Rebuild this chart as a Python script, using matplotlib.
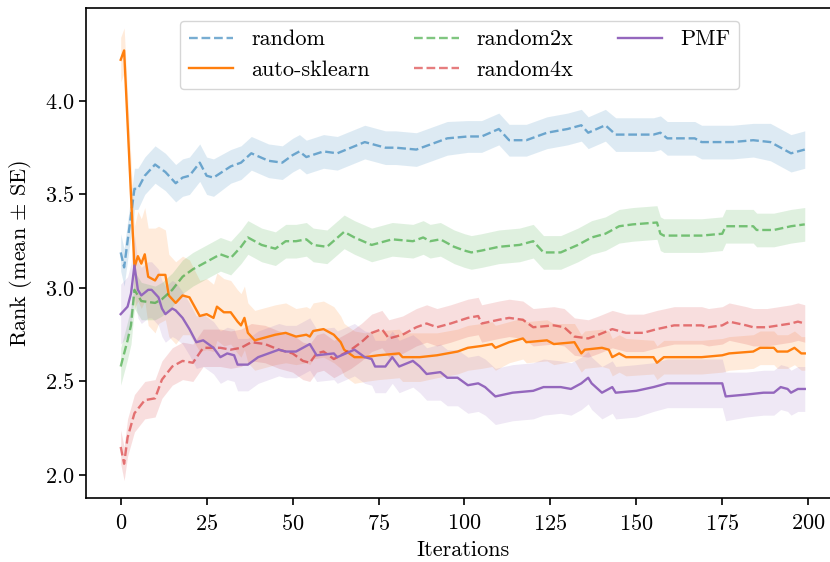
import matplotlib
matplotlib.use("Agg")
import matplotlib.pyplot as plt
import numpy as np

plt.rcParams['font.family'] = 'serif'
plt.rcParams['font.serif'] = ['cmr10', 'DejaVu Serif']
plt.rcParams['mathtext.fontset'] = 'cm'
plt.rcParams['axes.formatter.use_mathtext'] = True
plt.rcParams['font.size'] = 16

# values (iteration, mean rank, standard error)
random_it = [0, 1, 4, 5, 7, 10, 13, 16, 18, 20, 23, 25, 27, 32, 35, 38, 43, 47, 50, 52,
             54, 59, 63, 67, 71, 77, 80, 86, 89, 95, 101, 105, 110, 113, 118, 124, 130, 134, 136, 141,
             144, 152, 155, 157, 159, 167, 169, 178, 184, 189, 192, 195, 199]
random_mean = [3.19, 3.11, 3.53, 3.53, 3.60, 3.66, 3.62, 3.56, 3.59, 3.60, 3.67, 3.60, 3.59, 3.65, 3.67, 3.72, 3.68, 3.67, 3.71, 3.73,
               3.70, 3.73, 3.72, 3.75, 3.78, 3.75, 3.75, 3.74, 3.76, 3.80, 3.81, 3.81, 3.85, 3.79, 3.79, 3.83, 3.85, 3.87, 3.83, 3.87,
               3.82, 3.82, 3.82, 3.83, 3.80, 3.80, 3.78, 3.78, 3.79, 3.78, 3.75, 3.72, 3.74]
random_se = [0.10, 0.10, 0.11, 0.11, 0.10, 0.10, 0.10, 0.10, 0.10, 0.10, 0.10, 0.10, 0.10, 0.09, 0.09, 0.09, 0.09, 0.09, 0.09, 0.09,
             0.09, 0.09, 0.09, 0.09, 0.09, 0.09, 0.09, 0.09, 0.09, 0.09, 0.085, 0.085, 0.085, 0.085, 0.085, 0.085, 0.085, 0.085, 0.085, 0.085,
             0.09, 0.09, 0.09, 0.09, 0.09, 0.09, 0.09, 0.09, 0.09, 0.10, 0.10, 0.10, 0.10]

auto_it = [0, 1, 4, 5, 6, 7, 8, 10, 11, 13, 14, 16, 18, 20, 23, 25, 27, 28, 30, 32,
           34, 35, 36, 37, 39, 41, 45, 48, 51, 54, 55, 56, 59, 62, 64, 65, 68, 71, 75, 81,
           82, 87, 92, 98, 101, 105, 108, 109, 113, 117, 118, 124, 126, 132, 134, 135, 140, 142, 143, 145,
           147, 155, 156, 158, 169, 175, 177, 184, 186, 190, 191, 194, 196, 198, 199]
auto_mean = [4.22, 4.27, 3.11, 3.17, 3.13, 3.18, 3.06, 3.04, 3.07, 3.07, 2.96, 2.92, 2.96, 2.95, 2.85, 2.86, 2.84, 2.90, 2.87, 2.87,
             2.82, 2.80, 2.84, 2.76, 2.72, 2.73, 2.75, 2.76, 2.74, 2.75, 2.74, 2.77, 2.78, 2.75, 2.71, 2.67, 2.63, 2.63, 2.64, 2.65,
             2.63, 2.63, 2.64, 2.66, 2.68, 2.69, 2.70, 2.68, 2.71, 2.73, 2.71, 2.72, 2.70, 2.71, 2.65, 2.67, 2.68, 2.67, 2.63, 2.65,
             2.63, 2.63, 2.60, 2.63, 2.63, 2.64, 2.65, 2.66, 2.68, 2.68, 2.66, 2.66, 2.68, 2.65, 2.65]
auto_se = [0.12, 0.12, 0.22, 0.24, 0.24, 0.25, 0.26, 0.28, 0.26, 0.24, 0.22, 0.22, 0.21, 0.20, 0.19, 0.19, 0.18, 0.18, 0.18, 0.17,
           0.17, 0.17, 0.17, 0.16, 0.16, 0.16, 0.16, 0.16, 0.15, 0.15, 0.15, 0.15, 0.15, 0.15, 0.14, 0.14, 0.14, 0.13, 0.13, 0.13,
           0.13, 0.13, 0.12, 0.12, 0.12, 0.12, 0.12, 0.12, 0.11, 0.11, 0.11, 0.11, 0.11, 0.10, 0.10, 0.10, 0.10, 0.10, 0.10, 0.10,
           0.10, 0.09, 0.09, 0.09, 0.09, 0.09, 0.09, 0.09, 0.09, 0.09, 0.09, 0.09, 0.09, 0.09, 0.09]

r2x_it = [0, 2, 3, 4, 6, 10, 12, 15, 18, 21, 26, 29, 32, 35, 37, 41, 45, 48, 51, 54,
          56, 60, 65, 68, 73, 77, 79, 85, 88, 90, 93, 97, 100, 102, 105, 110, 116, 120, 123, 128,
          133, 137, 141, 145, 149, 156, 157, 158, 169, 175, 176, 184, 185, 190, 195, 199]
r2x_mean = [2.58, 2.72, 2.80, 2.99, 2.93, 2.92, 2.94, 2.99, 3.06, 3.10, 3.15, 3.18, 3.16, 3.22, 3.27, 3.23, 3.21, 3.25, 3.25, 3.26,
            3.23, 3.22, 3.30, 3.27, 3.23, 3.25, 3.26, 3.25, 3.27, 3.25, 3.26, 3.22, 3.20, 3.19, 3.20, 3.22, 3.23, 3.25, 3.19, 3.19,
            3.23, 3.27, 3.29, 3.33, 3.34, 3.35, 3.29, 3.28, 3.28, 3.29, 3.33, 3.33, 3.31, 3.31, 3.33, 3.34]
r2x_se = [0.10, 0.10, 0.10, 0.10, 0.10, 0.09, 0.09, 0.09, 0.09, 0.09, 0.09, 0.09, 0.09, 0.09, 0.09, 0.09, 0.09, 0.09, 0.09, 0.09,
          0.09, 0.09, 0.09, 0.09, 0.09, 0.09, 0.09, 0.09, 0.09, 0.09, 0.09, 0.09, 0.09, 0.09, 0.09, 0.09, 0.09, 0.09, 0.09, 0.09,
          0.09, 0.09, 0.09, 0.09, 0.09, 0.09, 0.09, 0.09, 0.09, 0.09, 0.09, 0.09, 0.09, 0.09, 0.09, 0.09]

r4x_it = [0, 1, 2, 4, 7, 10, 12, 15, 18, 21, 24, 27, 29, 32, 35, 38, 42, 46, 50, 53,
          55, 57, 59, 62, 64, 67, 70, 73, 76, 78, 82, 86, 89, 92, 96, 101, 104, 105, 110, 113,
          117, 120, 126, 129, 132, 136, 139, 143, 147, 152, 156, 161, 169, 171, 175, 177, 182, 184, 188, 195,
          197, 199]
r4x_mean = [2.15, 2.06, 2.20, 2.33, 2.40, 2.41, 2.51, 2.58, 2.61, 2.60, 2.68, 2.68, 2.68, 2.67, 2.68, 2.71, 2.70, 2.67, 2.65, 2.61,
            2.60, 2.65, 2.66, 2.62, 2.64, 2.67, 2.71, 2.76, 2.78, 2.73, 2.75, 2.79, 2.81, 2.79, 2.81, 2.84, 2.85, 2.81, 2.83, 2.84,
            2.83, 2.79, 2.80, 2.79, 2.74, 2.73, 2.75, 2.78, 2.76, 2.76, 2.78, 2.80, 2.80, 2.79, 2.80, 2.82, 2.80, 2.79, 2.79, 2.81,
            2.82, 2.81]
r4x_se = [0.09, 0.09, 0.10, 0.10, 0.10, 0.10, 0.10, 0.10, 0.10, 0.10, 0.10, 0.10, 0.10, 0.10, 0.10, 0.10, 0.10, 0.10, 0.10, 0.10,
          0.10, 0.10, 0.10, 0.10, 0.10, 0.10, 0.10, 0.10, 0.10, 0.10, 0.10, 0.10, 0.10, 0.10, 0.10, 0.10, 0.10, 0.10, 0.10, 0.10,
          0.10, 0.10, 0.10, 0.10, 0.10, 0.10, 0.10, 0.10, 0.10, 0.10, 0.10, 0.10, 0.10, 0.10, 0.10, 0.10, 0.10, 0.10, 0.10, 0.10,
          0.10, 0.10]

pmf_it = [0, 2, 3, 4, 5, 6, 8, 9, 11, 12, 13, 15, 16, 18, 20, 22, 24, 27, 29, 31,
          33, 34, 37, 40, 43, 46, 48, 51, 55, 57, 62, 63, 68, 71, 73, 74, 77, 79, 81, 85,
          87, 89, 93, 95, 98, 101, 104, 106, 109, 114, 120, 123, 128, 131, 134, 136, 137, 140, 143, 144,
          150, 155, 157, 159, 169, 175, 176, 182, 187, 190, 192, 194, 195, 197, 199]
pmf_mean = [2.86, 2.90, 2.97, 3.12, 2.99, 2.96, 2.99, 2.99, 2.95, 2.89, 2.86, 2.89, 2.88, 2.84, 2.78, 2.71, 2.72, 2.68, 2.63, 2.65,
            2.64, 2.59, 2.59, 2.63, 2.65, 2.67, 2.66, 2.66, 2.70, 2.64, 2.65, 2.63, 2.67, 2.63, 2.62, 2.58, 2.58, 2.63, 2.58, 2.61,
            2.58, 2.54, 2.55, 2.52, 2.52, 2.48, 2.49, 2.47, 2.42, 2.44, 2.45, 2.47, 2.47, 2.46, 2.49, 2.52, 2.49, 2.44, 2.47, 2.44,
            2.45, 2.47, 2.48, 2.49, 2.49, 2.49, 2.42, 2.43, 2.44, 2.44, 2.47, 2.46, 2.44, 2.46, 2.46]
pmf_se = [0.16, 0.16, 0.16, 0.16, 0.15, 0.15, 0.15, 0.15, 0.15, 0.15, 0.15, 0.15, 0.15, 0.14, 0.14, 0.14, 0.14, 0.14, 0.14, 0.14,
          0.14, 0.14, 0.14, 0.14, 0.14, 0.14, 0.14, 0.14, 0.14, 0.14, 0.14, 0.14, 0.14, 0.14, 0.14, 0.14, 0.14, 0.14, 0.14, 0.14,
          0.14, 0.14, 0.15, 0.15, 0.15, 0.15, 0.15, 0.15, 0.15, 0.15, 0.15, 0.15, 0.14, 0.14, 0.14, 0.14, 0.14, 0.14, 0.14, 0.14,
          0.14, 0.13, 0.13, 0.13, 0.13, 0.13, 0.13, 0.12, 0.12, 0.12, 0.12, 0.12, 0.12, 0.12, 0.12]

series = [
    ('random', random_it, random_mean, random_se, '#1f77b4', '--', 0.6),
    ('auto-sklearn', auto_it, auto_mean, auto_se, '#ff7f0e', '-', 1.0),
    ('random2x', r2x_it, r2x_mean, r2x_se, '#2ca02c', '--', 0.6),
    ('random4x', r4x_it, r4x_mean, r4x_se, '#d62728', '--', 0.6),
    ('PMF', pmf_it, pmf_mean, pmf_se, '#9467bd', '-', 1.0),
]

fig = plt.figure(figsize=(8.3, 5.62), dpi=100)
ax = fig.add_axes([0.1042, 0.1139, 0.9066, 0.8719])

for name, it, mean, se, color, ls, a in series:
    it = np.array(it)
    mean = np.array(mean)
    se = np.array(se)
    ax.fill_between(it, mean - se, mean + se, color=color, alpha=0.15, linewidth=0)
    ax.plot(it, mean, ls, color=color, alpha=a, lw=1.7, label=name)

ax.set_xlim(-9.95, 208.95)
ax.set_ylim(1.877, 4.497)
ax.set_xticks([0, 25, 50, 75, 100, 125, 150, 175, 200])
ax.set_yticks([2.0, 2.5, 3.0, 3.5, 4.0])
ax.set_xlabel('Iterations', fontsize=16, labelpad=5)
ax.set_ylabel(r'Rank (mean $\pm$ SE)', fontsize=16, labelpad=8)
for sp in ax.spines.values():
    sp.set_linewidth(1.2)
ax.tick_params(width=1.2, length=5, labelsize=16)
ax.tick_params(axis='x', pad=6.5)

ax.legend(loc='upper left', bbox_to_anchor=(0.2169, 0.9626), bbox_transform=fig.transFigure,
          ncol=3, borderaxespad=0, fancybox=True, framealpha=0.8, edgecolor='#cccccc',
          fontsize=16)

fig.savefig('out.png', dpi=100)
